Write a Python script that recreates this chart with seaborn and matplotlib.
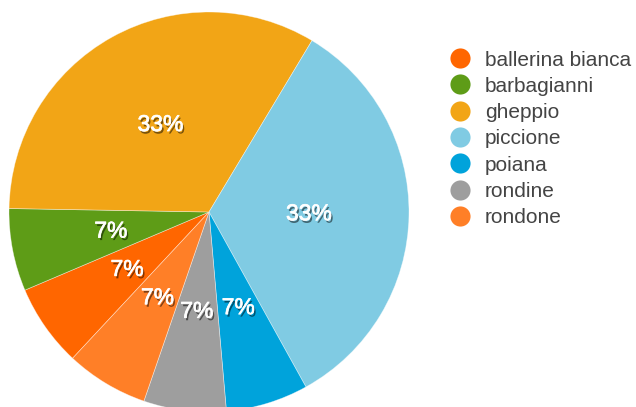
import matplotlib
matplotlib.use("Agg")
import matplotlib.pyplot as plt
import matplotlib.patheffects as pe
from matplotlib.lines import Line2D
import seaborn as sns

# data (alphabetical, drawn clockwise)
birds = ["ballerina bianca", "barbagianni", "gheppio", "piccione", "poiana", "rondine", "rondone"]
counts = [1, 1, 5, 5, 1, 1, 1]
colors = ["#FF6600", "#5E9C17", "#F2A516", "#80CBE3", "#00A3DB", "#9E9E9E", "#FF7F27"]

sns.set_theme(style="white")
plt.rcParams["font.family"] = ["Liberation Sans", "DejaVu Sans"]

fig = plt.figure(figsize=(6.36, 4.07), dpi=100)
ax = fig.add_axes([9 / 636, -5 / 407, 400 / 636, 400 / 407])

wedges, texts, autotexts = ax.pie(
    counts,
    colors=colors,
    startangle=227,
    counterclock=False,
    autopct="%.0f%%",
    pctdistance=0.5,
    radius=1.0,
    wedgeprops={"linewidth": 0.5, "edgecolor": (1, 1, 1, 0.5)},
    textprops={"color": "white", "fontsize": 16.5},
)
for t in autotexts:
    t.set_path_effects([
        pe.SimplePatchShadow(offset=(1.2, -1.8), shadow_rgbFace="black", alpha=0.5),
        pe.withStroke(linewidth=0.5, foreground="white"),
    ])
ax.set_xlim(-1, 1)
ax.set_ylim(-1, 1)
ax.set_aspect("equal")
ax.axis("off")

handles = [
    Line2D([], [], marker="o", linestyle="", markersize=14.5, markerfacecolor=c, markeredgewidth=0)
    for c in colors
]
fig.legend(
    handles, birds,
    loc="upper left",
    bbox_to_anchor=(447.5 / 636, 1 - 50.5 / 407),
    frameon=False,
    fontsize=15,
    labelcolor="#444444",
    labelspacing=0.35,
    handlelength=1.2,
    handletextpad=0.6,
    borderpad=0,
    borderaxespad=0,
)

fig.savefig("out.png", dpi=100)
